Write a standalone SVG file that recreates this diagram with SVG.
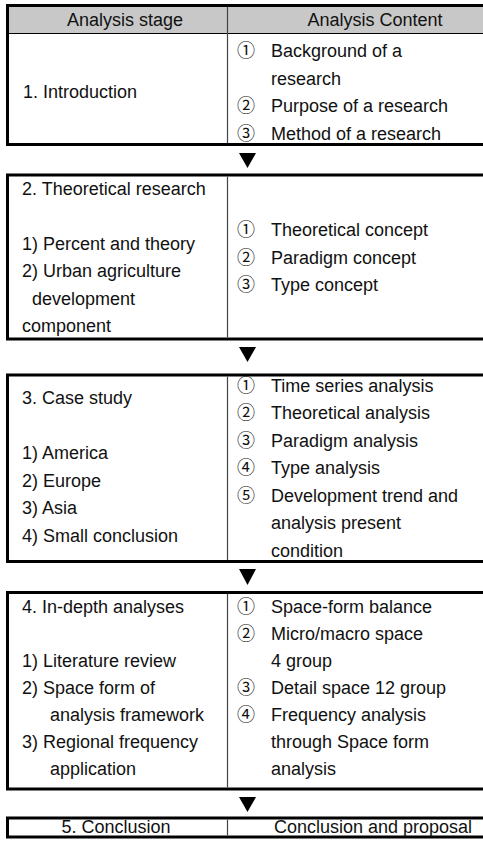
<svg xmlns="http://www.w3.org/2000/svg" width="483" height="846" viewBox="0 0 483 846">
<style>
.frame{fill:none;stroke:#000;stroke-width:3}
.div{stroke:#444;stroke-width:1.2}
text{font-family:"Liberation Sans",Arial,sans-serif;font-size:18px;fill:#111}
.c{text-anchor:middle}
.n{font-family:"Noto Sans CJK KR","DejaVu Sans",sans-serif;font-size:18px}
.arr{fill:#000}
</style>
<g id="node1">
<rect x="7.5" y="7" width="512" height="26.5" fill="#c8c8c8"/>
<line x1="7.5" y1="33.5" x2="520" y2="33.5" stroke="#000" stroke-width="1"/>
<rect class="frame" x="7.5" y="5.5" width="512" height="139"/>
<line class="div" x1="227.5" y1="7" x2="227.5" y2="143"/>
<text class="c" x="125" y="26">Analysis stage</text>
<text class="c" x="375" y="26">Analysis Content</text>
<text x="23" y="98">1. Introduction</text>
<text class="n" x="237" y="57">①</text><text x="271" y="57">Background of a</text>
<text x="271" y="84.5">research</text>
<text class="n" x="237" y="112">②</text><text x="271" y="112">Purpose of a research</text>
<text class="n" x="237" y="139.5">③</text><text x="271" y="139.5">Method of a research</text>
</g>
<g id="node2">
<rect class="frame" x="7.5" y="175" width="512" height="164"/>
<line class="div" x1="227.5" y1="176.5" x2="227.5" y2="337.5"/>
<text x="22" y="195">2. Theoretical research</text>
<text x="22" y="249.5">1) Percent and theory</text>
<text x="22" y="277">2) Urban agriculture</text>
<text x="32" y="304.5">development</text>
<text x="22" y="332">component</text>
<text class="n" x="237" y="236">①</text><text x="271" y="236">Theoretical concept</text>
<text class="n" x="237" y="263.5">②</text><text x="271" y="263.5">Paradigm concept</text>
<text class="n" x="237" y="291">③</text><text x="271" y="291">Type concept</text>
</g>
<g id="node3">
<rect class="frame" x="7.5" y="375" width="512" height="186.5"/>
<line class="div" x1="227.5" y1="376.5" x2="227.5" y2="560"/>
<text x="22" y="404">3. Case study</text>
<text x="22" y="459">1) America</text>
<text x="22" y="487">2) Europe</text>
<text x="22" y="514">3) Asia</text>
<text x="22" y="542">4) Small conclusion</text>
<text class="n" x="237" y="392">①</text><text x="271" y="392">Time series analysis</text>
<text class="n" x="237" y="419">②</text><text x="271" y="419">Theoretical analysis</text>
<text class="n" x="237" y="446.5">③</text><text x="271" y="446.5">Paradigm analysis</text>
<text class="n" x="237" y="474">④</text><text x="271" y="474">Type analysis</text>
<text class="n" x="237" y="501.5">⑤</text><text x="271" y="501.5">Development trend and</text>
<text x="271" y="529">analysis present</text>
<text x="271" y="556.5">condition</text>
</g>
<g id="node4">
<rect class="frame" x="7.5" y="592.5" width="512" height="196.5"/>
<line class="div" x1="227.5" y1="594" x2="227.5" y2="787.5"/>
<text x="22" y="613">4. In-depth analyses</text>
<text x="22" y="667">1) Literature review</text>
<text x="22" y="694">2) Space form of</text>
<text x="50" y="721">analysis framework</text>
<text x="22" y="748">3) Regional frequency</text>
<text x="50" y="775">application</text>
<text class="n" x="237" y="613">①</text><text x="271" y="613">Space-form balance</text>
<text class="n" x="237" y="640">②</text><text x="271" y="640">Micro/macro space</text>
<text x="271" y="667">4 group</text>
<text class="n" x="237" y="694">③</text><text x="271" y="694">Detail space 12 group</text>
<text class="n" x="237" y="721">④</text><text x="271" y="721">Frequency analysis</text>
<text x="271" y="748">through Space form</text>
<text x="271" y="775">analysis</text>
</g>
<g id="node5">
<rect class="frame" x="7.5" y="818" width="512" height="19"/>
<line class="div" x1="227.5" y1="819.5" x2="227.5" y2="835.5"/>
<text class="c" x="116" y="833">5. Conclusion</text>
<text class="c" x="373" y="833">Conclusion and proposal</text>
</g>
<g id="connectors">
<polygon class="arr" points="239,153 256,153 247.5,168"/>
<polygon class="arr" points="239,347 256,347 247.5,362"/>
<polygon class="arr" points="239,569 256,569 247.5,585"/>
<polygon class="arr" points="239,797 256,797 247.5,812"/>
</g>
</svg>
